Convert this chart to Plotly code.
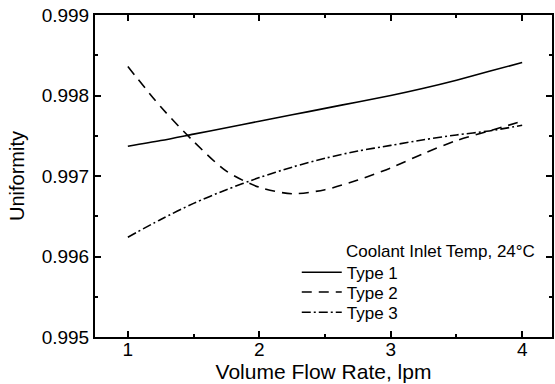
import plotly.graph_objects as go

flow_rate = [1.0, 1.25, 1.5, 1.75, 2.0, 2.25, 2.5, 2.75, 3.0, 3.25, 3.5, 3.75, 4.0]
type1 = [0.99737, 0.99744, 0.99752, 0.99760, 0.99768, 0.99776, 0.99784, 0.99792, 0.99800, 0.99809, 0.99819, 0.99830, 0.99841]
type2 = [0.99836, 0.99786, 0.99743, 0.99706, 0.99686, 0.99678, 0.99683, 0.99695, 0.99710, 0.99728, 0.99744, 0.99756, 0.99768]
type3 = [0.99624, 0.99646, 0.99666, 0.99683, 0.99698, 0.99711, 0.99722, 0.99731, 0.99738, 0.99745, 0.99751, 0.99756, 0.99763]

x_ticks = [1, 2, 3, 4]
y_ticks = [0.995, 0.996, 0.997, 0.998, 0.999]
y_tick_labels = ["0.995", "0.996", "0.997", "0.998", "0.999"]

FONT = "Liberation Sans, Arial, sans-serif"

fig = go.Figure()
series = [
    ("Type 1", type1, "solid", "legend"),
    ("Type 2", type2, "10px,7px", "legend2"),
    ("Type 3", type3, "9px,3px,2px,3px", "legend3"),
]
for name, ys, dash, lg in series:
    fig.add_trace(go.Scatter(
        x=flow_rate, y=ys, mode="lines", name=name, legend=lg,
        line=dict(color="black", width=1.6, dash=dash, shape="spline", smoothing=0.8),
    ))

axis_common = dict(
    showline=True, linecolor="black", linewidth=2, mirror="ticks",
    ticks="inside", ticklen=6, tickwidth=1.5, tickcolor="black",
    showgrid=False, zeroline=False,
    tickfont=dict(family=FONT, size=19, color="black"),
)

legend_common = dict(
    x=0.4415, xanchor="left", yanchor="top",
    bgcolor="rgba(0,0,0,0)", borderwidth=0,
    font=dict(family=FONT, size=17, color="black"),
    itemwidth=40,
)

fig.update_layout(
    width=555, height=384,
    margin=dict(l=95, r=1, t=15, b=47),
    paper_bgcolor="white", plot_bgcolor="white",
    font=dict(family=FONT, color="black"),
    showlegend=True,
    legend=dict(y=0.2556, **legend_common),
    legend2=dict(y=0.1944, **legend_common),
    legend3=dict(y=0.1314, **legend_common),
    annotations=[dict(
        text="Coolant Inlet Temp, 24°C", xref="paper", yref="paper",
        x=0.545, y=0.265, xanchor="left", yanchor="middle", showarrow=False,
        font=dict(family=FONT, size=17, color="black"),
    )],
)

fig.update_xaxes(
    range=[0.75, 4.227], tickvals=x_ticks, ticklabelstandoff=-6,
    title=dict(text="Volume Flow Rate, lpm", font=dict(family=FONT, size=21, color="black"), standoff=3),
    minor=dict(dtick=0.5, tick0=0.5, ticks="inside", ticklen=3, tickwidth=1.5, tickcolor="black"),
    **axis_common,
)
fig.update_yaxes(
    range=[0.995, 0.999], tickvals=y_ticks, ticktext=y_tick_labels,
    title=dict(text="Uniformity", font=dict(family=FONT, size=20, color="black"), standoff=12),
    minor=dict(dtick=0.0005, tick0=0.995, ticks="inside", ticklen=3, tickwidth=1.5, tickcolor="black"),
    **axis_common,
)

fig.write_html("out.html")
